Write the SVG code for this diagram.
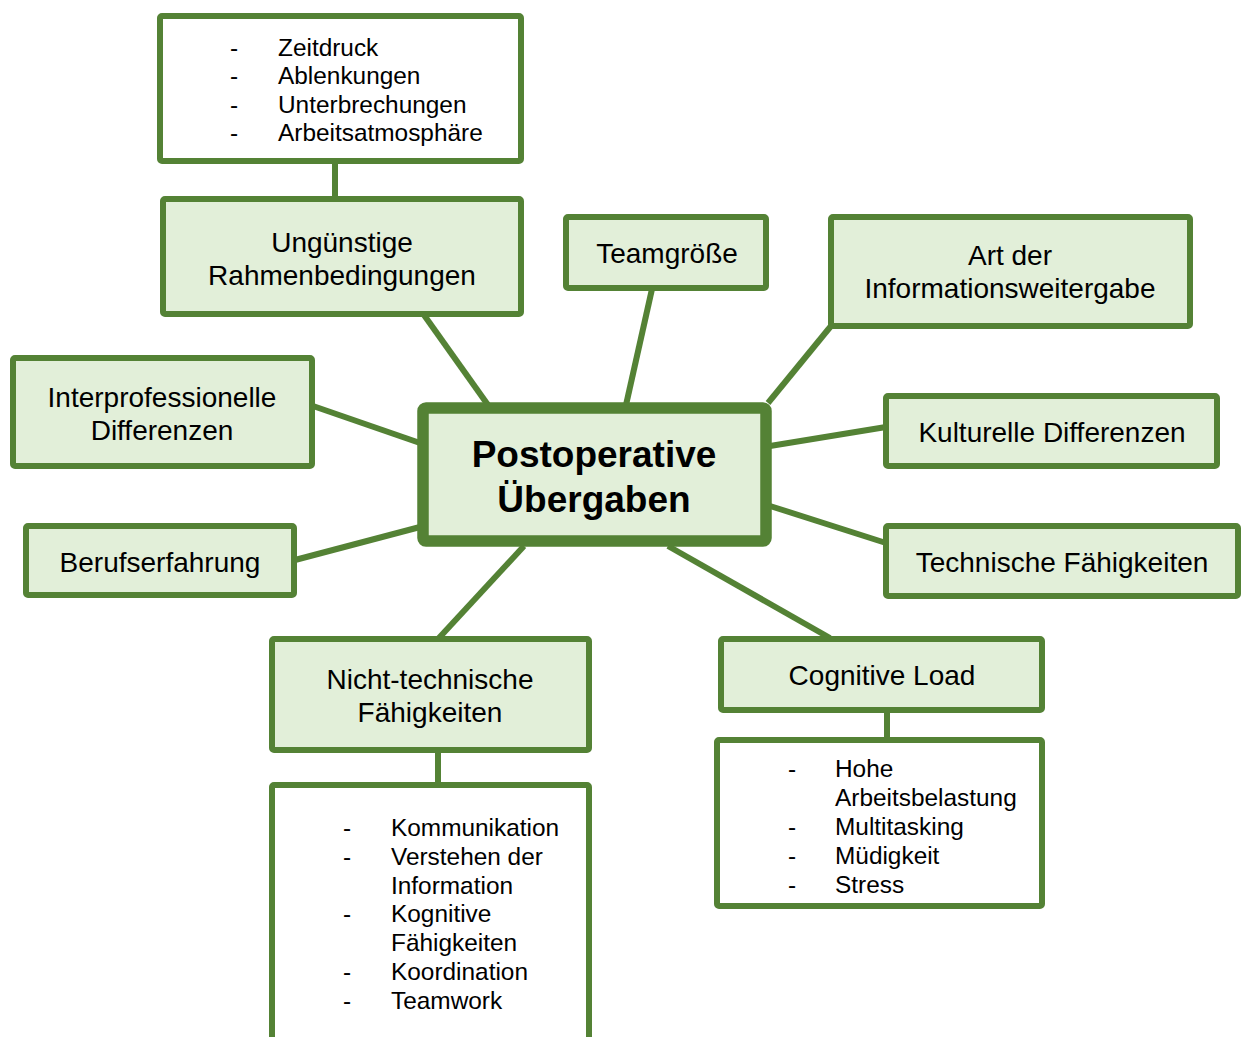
<svg xmlns="http://www.w3.org/2000/svg" width="1242" height="1037" viewBox="0 0 1242 1037">
<style>
.box{fill:#E2EFD9;stroke:#548235;stroke-width:6;}
.list{fill:#FFFFFF;stroke:#548235;stroke-width:6;}
.main{fill:#E2EFD9;stroke:#548235;stroke-width:11.5;}
.lbl{font-family:"Liberation Sans",Arial,sans-serif;font-size:28px;fill:#000;text-anchor:middle;}
.li{font-family:"Liberation Sans",Arial,sans-serif;font-size:24.4px;fill:#000;}
.title{font-family:"Liberation Sans",Arial,sans-serif;font-size:37px;font-weight:bold;fill:#000;text-anchor:middle;}
.con{stroke:#548235;stroke-width:6;fill:none;}
</style>
<rect width="1242" height="1037" fill="#FFFFFF"/>
<g id="connectors">
<line class="con" x1="335" y1="161" x2="335" y2="199"/>
<line class="con" x1="488" y1="405" x2="424" y2="315"/>
<line class="con" x1="626" y1="405" x2="652" y2="289"/>
<line class="con" x1="768" y1="403" x2="831" y2="326"/>
<line class="con" x1="770" y1="446" x2="886" y2="427"/>
<line class="con" x1="770" y1="506" x2="886" y2="543"/>
<line class="con" x1="668" y1="546" x2="830" y2="638"/>
<line class="con" x1="887" y1="710" x2="887" y2="740"/>
<line class="con" x1="524" y1="546" x2="438" y2="639"/>
<line class="con" x1="438" y1="750" x2="438" y2="785"/>
<line class="con" x1="313" y1="406" x2="420" y2="443"/>
<line class="con" x1="295" y1="560" x2="420" y2="527"/>
</g>
<g id="list-rahmen">
<rect class="list" x="160" y="16" width="361" height="145" rx="2"/>
<text class="li" x="230" y="55.5">-</text><text class="li" x="278" y="55.5">Zeitdruck</text>
<text class="li" x="230" y="84">-</text><text class="li" x="278" y="84">Ablenkungen</text>
<text class="li" x="230" y="112.5">-</text><text class="li" x="278" y="112.5">Unterbrechungen</text>
<text class="li" x="230" y="141">-</text><text class="li" x="278" y="141">Arbeitsatmosphäre</text>
</g>
<g id="rahmen">
<rect class="box" x="163" y="199" width="358" height="115" rx="2"/>
<text class="lbl" x="342" y="252">Ungünstige</text>
<text class="lbl" x="342" y="285">Rahmenbedingungen</text>
</g>
<g id="teamgroesse">
<rect class="box" x="566" y="217" width="200" height="71" rx="2"/>
<text class="lbl" x="667" y="263">Teamgröße</text>
</g>
<g id="informationsweitergabe">
<rect class="box" x="831" y="217" width="359" height="109" rx="2"/>
<text class="lbl" x="1010" y="265">Art der</text>
<text class="lbl" x="1010" y="298">Informationsweitergabe</text>
</g>
<g id="interprofessionell">
<rect class="box" x="13" y="358" width="299" height="108" rx="2"/>
<text class="lbl" x="162" y="407">Interprofessionelle</text>
<text class="lbl" x="162" y="440">Differenzen</text>
</g>
<g id="kulturell">
<rect class="box" x="886" y="396" width="331" height="70" rx="2"/>
<text class="lbl" x="1052" y="442">Kulturelle Differenzen</text>
</g>
<g id="center">
<rect class="main" x="423" y="408" width="343" height="133" rx="3"/>
<text class="title" x="594" y="467">Postoperative</text>
<text class="title" x="594" y="512">Übergaben</text>
</g>
<g id="berufserfahrung">
<rect class="box" x="26" y="526" width="268" height="69" rx="2"/>
<text class="lbl" x="160" y="572">Berufserfahrung</text>
</g>
<g id="technisch">
<rect class="box" x="886" y="526" width="352" height="70" rx="2"/>
<text class="lbl" x="1062" y="572">Technische Fähigkeiten</text>
</g>
<g id="cognitive">
<rect class="box" x="721" y="639" width="321" height="71" rx="2"/>
<text class="lbl" x="882" y="685">Cognitive Load</text>
</g>
<g id="list-cognitive">
<rect class="list" x="717" y="740" width="325" height="166" rx="2"/>
<text class="li" x="788" y="777">-</text><text class="li" x="835" y="777">Hohe</text>
<text class="li" x="835" y="806">Arbeitsbelastung</text>
<text class="li" x="788" y="835">-</text><text class="li" x="835" y="835">Multitasking</text>
<text class="li" x="788" y="864">-</text><text class="li" x="835" y="864">Müdigkeit</text>
<text class="li" x="788" y="893">-</text><text class="li" x="835" y="893">Stress</text>
</g>
<g id="nichttechnisch">
<rect class="box" x="272" y="639" width="317" height="111" rx="2"/>
<text class="lbl" x="430" y="689">Nicht-technische</text>
<text class="lbl" x="430" y="722">Fähigkeiten</text>
</g>
<g id="list-nichttechnisch">
<rect class="list" x="272" y="785" width="317" height="280" rx="2"/>
<text class="li" x="343" y="836">-</text><text class="li" x="391" y="836">Kommunikation</text>
<text class="li" x="343" y="865">-</text><text class="li" x="391" y="865">Verstehen der</text>
<text class="li" x="391" y="894">Information</text>
<text class="li" x="343" y="922">-</text><text class="li" x="391" y="922">Kognitive</text>
<text class="li" x="391" y="951">Fähigkeiten</text>
<text class="li" x="343" y="980">-</text><text class="li" x="391" y="980">Koordination</text>
<text class="li" x="343" y="1009">-</text><text class="li" x="391" y="1009">Teamwork</text>
</g>
</svg>
